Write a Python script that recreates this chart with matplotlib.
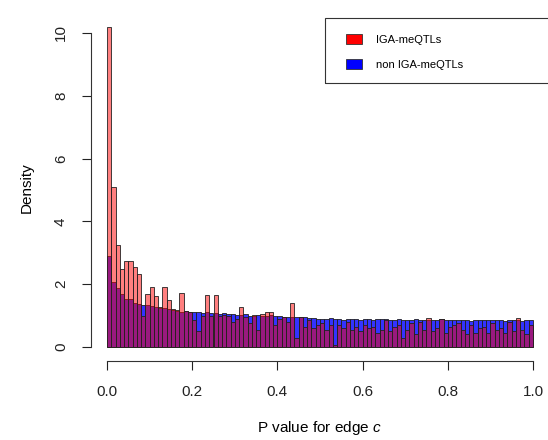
import numpy as np
import matplotlib
matplotlib.use("Agg")
import matplotlib.pyplot as plt
from matplotlib.patches import Patch, Rectangle

plt.rcParams['font.family'] = ['Liberation Sans', 'DejaVu Sans']
plt.rcParams['mathtext.fontset'] = 'custom'
plt.rcParams['mathtext.it'] = 'Liberation Sans:italic'
plt.rcParams['mathtext.rm'] = 'Liberation Sans'

# 100 bins of width 0.01 between 0 and 1
bin_edges = np.linspace(0, 1, 101)

# density per bin, IGA-meQTLs (red)
iga = [10.2, 5.1, 3.25, 2.5, 2.75, 2.75, 2.56, 2.32, 1.0, 1.7,
       1.9, 1.63, 1.28, 1.9, 1.5, 1.22, 1.18, 1.73, 1.15, 1.1,
       0.86, 0.5, 1.0, 1.65, 1.0, 1.65, 0.98, 1.02, 1.0, 0.8,
       0.9, 1.28, 0.95, 0.75, 1.02, 0.55, 1.05, 1.1, 1.1, 0.7,
       0.9, 0.95, 0.8, 1.4, 0.28, 0.95, 0.65, 0.85, 0.6, 0.7,
       0.75, 0.55, 0.70, 0.05, 0.70, 0.60, 0.80, 0.55, 0.65, 0.50,
       0.70, 0.60, 0.65, 0.45, 0.55, 0.85, 0.50, 0.65, 0.70, 0.30,
       0.55, 0.75, 0.40, 0.80, 0.55, 0.92, 0.50, 0.60, 0.88, 0.45,
       0.65, 0.70, 0.75, 0.55, 0.40, 0.70, 0.45, 0.60, 0.65, 0.45,
       0.75, 0.55, 0.60, 0.45, 0.80, 0.50, 0.93, 0.55, 0.40, 0.70]

# density per bin, non IGA-meQTLs (blue)
non_iga = [2.9, 2.06, 1.87, 1.69, 1.52, 1.52, 1.41, 1.37, 1.34, 1.33,
           1.3, 1.27, 1.25, 1.23, 1.2, 1.18, 1.16, 1.12, 1.14, 1.1,
           1.12, 1.13, 1.08, 1.1, 1.07, 1.09, 1.05, 1.07, 1.04, 1.05,
           1.03, 1.02, 1.04, 1.0, 0.98, 1.02, 1.0, 0.99, 1.03, 1.0,
           0.98, 0.97, 0.95, 0.96, 0.97, 0.94, 0.95, 0.92, 0.93, 0.9,
           0.90, 0.88, 0.91, 0.89, 0.90, 0.87, 0.89, 0.88, 0.90, 0.87,
           0.89, 0.88, 0.87, 0.89, 0.88, 0.90, 0.87, 0.86, 0.88, 0.87,
           0.86, 0.87, 0.88, 0.86, 0.87, 0.86, 0.85, 0.87, 0.88, 0.87,
           0.86, 0.85, 0.87, 0.86, 0.85, 0.84, 0.86, 0.85, 0.86, 0.87,
           0.86, 0.85, 0.86, 0.84, 0.86, 0.85, 0.86, 0.84, 0.85, 0.86]

labels = ["IGA-meQTLs", "non IGA-meQTLs"]
x_ticks = [0.0, 0.2, 0.4, 0.6, 0.8, 1.0]
y_ticks = [0, 2, 4, 6, 8, 10]

fig = plt.figure(figsize=(5.48, 4.40), dpi=100)
W, H = 548, 440
# axes in pixel terms: left 91, right 548, bottom 361, top 14
ax = fig.add_axes([91 / W, 1 - 361 / H, (548 - 91) / W, (361 - 14) / H])

blue_col = (0, 0, 1, 0.8)
red_col = (1, 0, 0, 0.5)
ax.bar(bin_edges[:-1], non_iga, width=0.01, align='edge', color=blue_col,
       edgecolor='#222222', linewidth=0.6)
ax.bar(bin_edges[:-1], iga, width=0.01, align='edge', color=red_col,
       edgecolor='#222222', linewidth=0.6)

ax.set_xlim(-16 / 426, (548 - 107) / 426)
ax.set_ylim(-14 / 31.4, 333 / 31.4)

for s in ['top', 'right']:
    ax.spines[s].set_visible(False)
ax.spines['left'].set_bounds(0, 10)
ax.spines['bottom'].set_bounds(0, 1)
ax.spines['left'].set_color('#333333')
ax.spines['bottom'].set_color('#333333')

ax.set_xticks(x_ticks)
ax.set_xticklabels(["%.1f" % v for v in x_ticks])
ax.set_yticks(y_ticks)
ax.set_yticklabels([str(v) for v in y_ticks], rotation=90, va='center')
ax.tick_params(axis='both', direction='out', length=6.5, width=0.8,
               labelsize=11, colors='#222222')
ax.tick_params(axis='x', pad=11)
ax.tick_params(axis='y', pad=10)

ax.set_xlabel("P value for edge $c$", fontsize=11, labelpad=14)
ax.set_ylabel("Density", fontsize=11, labelpad=15)

# legend box like R's legend()
fig.patches.append(Rectangle((325 / W, 1 - 83 / H), (560 - 325) / W, (83 - 18) / H,
                             transform=fig.transFigure, fill=False,
                             edgecolor='#333333', linewidth=0.8))
handles = [Patch(facecolor='#ff0000', edgecolor='#333333', linewidth=0.6),
           Patch(facecolor='#0000ff', edgecolor='#333333', linewidth=0.6)]
fig.legend(handles, labels, loc='upper left',
           bbox_to_anchor=(338 / W, 1 - 26 / H), frameon=False, fontsize=8,
           handlelength=1.5, handleheight=1.0, labelspacing=1.3,
           handletextpad=1.2, borderpad=0.2)

fig.savefig("out.png", dpi=100)
